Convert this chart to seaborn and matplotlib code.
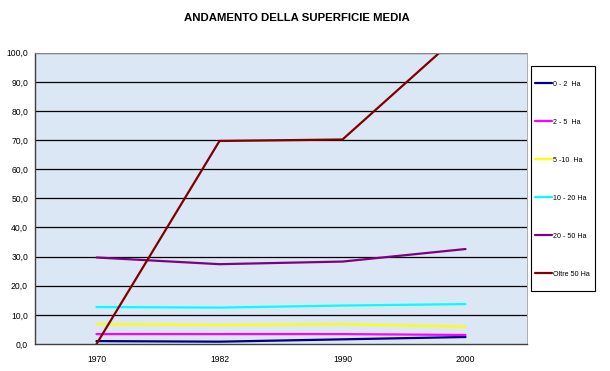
import matplotlib
matplotlib.use("Agg")
import matplotlib.pyplot as plt
from matplotlib.patches import Rectangle
import numpy as np
import pandas as pd
import seaborn as sns

# Census years and mean farm surface (ha) by size class
anni = ["1970", "1982", "1990", "2000"]
classi = ["0 - 2  Ha", "2 - 5  Ha", "5 -10  Ha", "10 - 20 Ha", "20 - 50 Ha", "Oltre 50 Ha"]
v_0_2 = [1.0, 0.8, 1.6, 2.4]
v_2_5 = [3.4, 3.4, 3.4, 3.1]
v_5_10 = [6.8, 6.5, 6.8, 5.9]
v_10_20 = [12.7, 12.5, 13.2, 13.7]
v_20_50 = [29.7, 27.4, 28.3, 32.6]
v_oltre_50 = [0.0, 69.7, 70.2, 108.0]
colori = ["#000080", "#FF00FF", "#FFFF00", "#00FFFF", "#800080", "#800000"]

serie = [v_0_2, v_2_5, v_5_10, v_10_20, v_20_50, v_oltre_50]
df = pd.DataFrame(
    [(i, anni[i], c, s[i]) for c, s in zip(classi, serie) for i in range(len(anni))],
    columns=["pos", "anno", "classe", "valore"],
)

sns.set_theme(style="white")
plt.rcParams["font.family"] = ["Liberation Sans", "DejaVu Sans"]
plt.rcParams["text.color"] = "black"
plt.rcParams["xtick.color"] = "black"
plt.rcParams["ytick.color"] = "black"

W, H = 610, 371
fig = plt.figure(figsize=(W / 100, H / 100), dpi=100)
fig.patch.set_facecolor("white")
ax = fig.add_axes([35 / W, 1 - 344 / H, (527 - 35) / W, (344 - 52.7) / H])
ax.set_facecolor("#DBE7F5")

sns.lineplot(
    data=df, x="pos", y="valore", hue="classe", hue_order=classi,
    palette=dict(zip(classi, colori)), linewidth=1.6, ax=ax, legend=True,
)

ax.set_xlim(-0.5, len(anni) - 0.5)
ax.set_ylim(0, 100)

# horizontal gridlines every 10
ax.set_yticks(np.arange(0, 101, 10))
ax.set_yticklabels([f"{v:.1f}".replace(".", ",") for v in np.arange(0, 101, 10)], fontsize=6.2)
for y in np.arange(10, 101, 10):
    ax.axhline(y, color="black", linewidth=0.9, zorder=0.5)
ax.tick_params(axis="y", direction="out", length=3, width=0.8, color="#404040", pad=2)

# category labels centered, tick marks on category boundaries
ax.set_xticks(range(len(anni)))
ax.set_xticklabels(anni, fontsize=6.2)
ax.tick_params(axis="x", which="major", length=0, pad=8)
ax.set_xticks(np.arange(0.5, len(anni), 1), minor=True)
ax.tick_params(axis="x", which="minor", direction="out", length=3, width=0.8, color="#404040")
ax.set_xlabel("")
ax.set_ylabel("")

for side in ["left", "bottom"]:
    ax.spines[side].set_color("#404040")
    ax.spines[side].set_linewidth(1.0)
for side in ["top", "right"]:
    ax.spines[side].set_color("#A0A0A0")
    ax.spines[side].set_linewidth(0.6)

fig.text(297 / W, 1 - 18 / H, "ANDAMENTO DELLA SUPERFICIE MEDIA",
         ha="center", va="center", fontsize=8.2, fontweight="bold", color="black")

# legend: entries without frame, box drawn separately
handles, labels = ax.get_legend_handles_labels()
if ax.get_legend():
    ax.get_legend().remove()
leg = fig.legend(
    handles, labels, loc="upper left",
    bbox_to_anchor=(535 / W, 1 - 80.5 / H), fontsize=5.1,
    frameon=False, labelspacing=4.38, handlelength=2.4, handletextpad=0.1,
    borderpad=0, borderaxespad=0,
)
for line in leg.get_lines():
    line.set_linewidth(1.6)
for t in leg.get_texts():
    t.set_color("black")
fig.add_artist(Rectangle((531 / W, 1 - 290.7 / H), 64 / W, 225 / H,
                         transform=fig.transFigure, fill=False,
                         edgecolor="black", linewidth=0.8))

fig.savefig("out.png", dpi=100, facecolor="white")
